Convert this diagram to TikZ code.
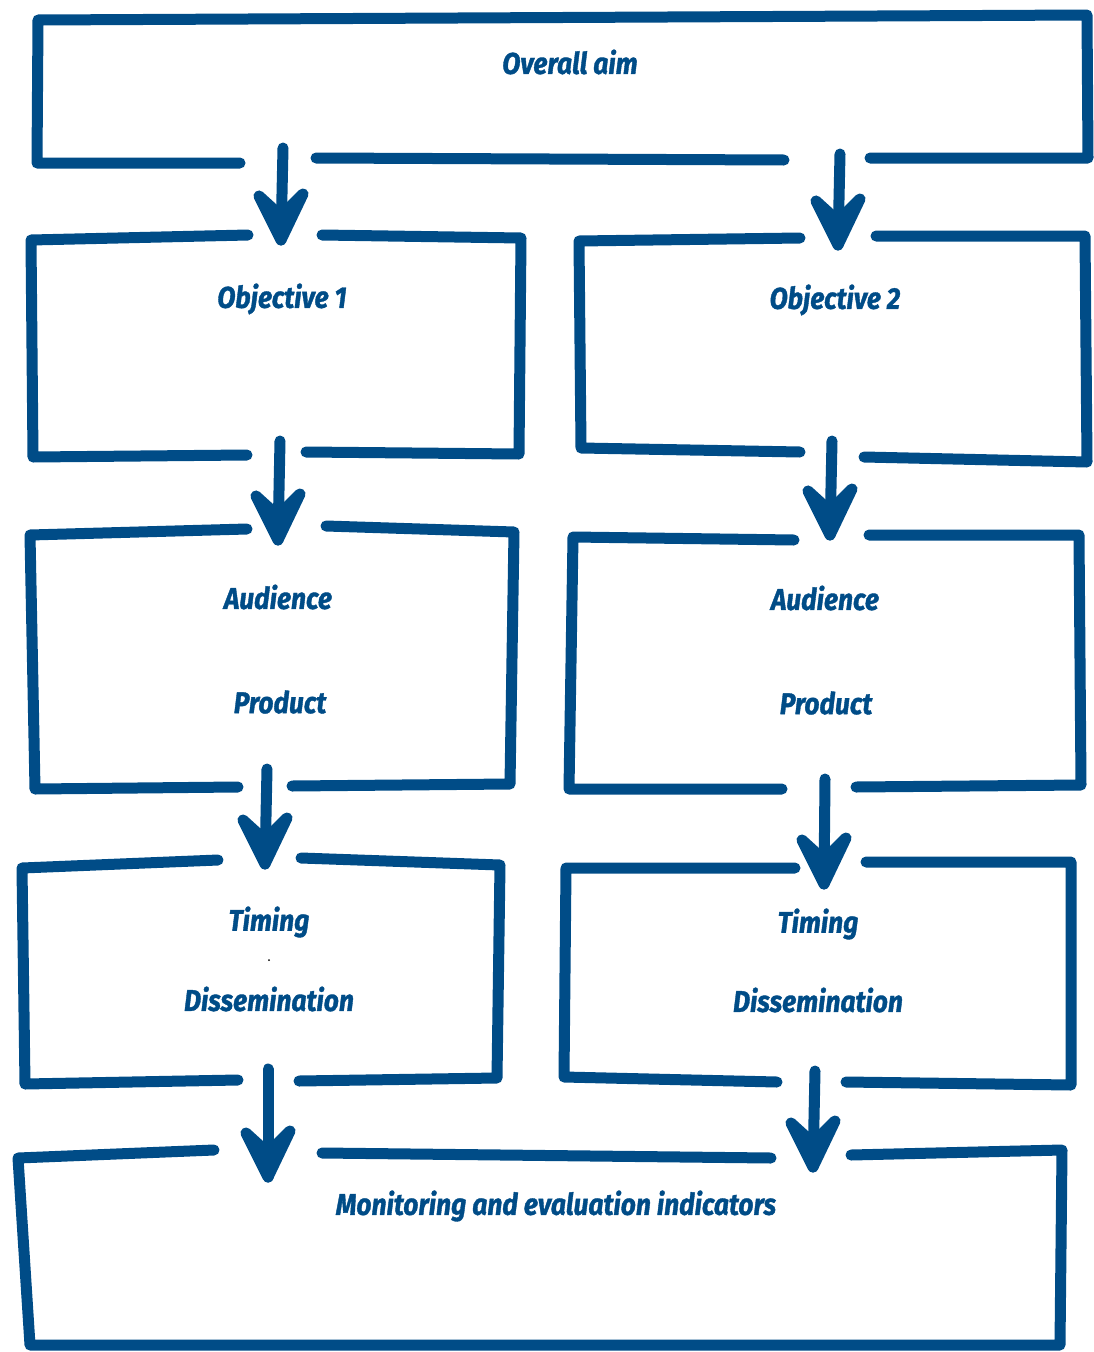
\documentclass[tikz,border=0pt]{standalone}
\usepackage{fontspec}
\newfontfamily\handfont{Fira Sans}[FakeStretch=0.88, FakeBold=1.2]
\usetikzlibrary{calc}
\definecolor{inkblue}{RGB}{0,76,135}
\tikzset{
  pen/.style={draw=inkblue, line width=11pt, line cap=round, line join=round},
  shaft/.style={draw=inkblue, line width=11pt, line cap=round},
  tiphead/.style={draw=inkblue, fill=inkblue, line width=11pt, line cap=round, line join=round},
  label/.style={text=inkblue, font=\handfont\bfseries\itshape\fontsize{30}{32}\selectfont, inner sep=0pt}
}
\newcommand{\handarrow}[2]{%
  \draw[shaft] (#1) -- (#2);
  \filldraw[tiphead] ($(#2)+(-22,-44)$) -- (#2) -- ($(#2)+(22,-46)$) -- ($(#2)+(0,-24)$) -- cycle;
}
\begin{document}
\begin{tikzpicture}[x=1pt,y=-1pt]
\useasboundingbox (0,0) rectangle (1093,1352);
% boxes
\draw[pen] (240,163) -- (37,163) -- (38,20) -- (1087,15) -- (1088,158) -- (870,158);
\draw[pen] (316,158) -- (784,160);
\draw[pen] (248,235) -- (31,240) -- (33,457) -- (247,455);
\draw[pen] (322,235) -- (521,238) -- (519,454) -- (306,452);
\draw[pen] (800,238) -- (579,241) -- (581,448) -- (800,452);
\draw[pen] (876,236) -- (1085,236) -- (1087,462) -- (864,457);
\draw[pen] (247,529) -- (30,535) -- (35,789) -- (238,787);
\draw[pen] (326,526) -- (514,532) -- (510,784) -- (292,786);
\draw[pen] (794,540) -- (573,537) -- (569,789) -- (782,789);
\draw[pen] (869,535) -- (1079,535) -- (1081,785) -- (856,787);
\draw[pen] (218,860) -- (22,868) -- (25,1084) -- (238,1080);
\draw[pen] (301,858) -- (500,865) -- (497,1078) -- (299,1081);
\draw[pen] (795,868) -- (566,868) -- (564,1077) -- (777,1082);
\draw[pen] (866,862) -- (1071,862) -- (1071,1085) -- (846,1082);
\draw[pen] (214,1150) -- (18,1158) -- (30,1345) -- (1060,1345) -- (1062,1150) -- (851,1155);
\draw[pen] (322,1153) -- (771,1158);
% labels
\node[label] (aim) at (570,62) {Overall aim};
\node[label] (obj1) at (282,299) {Objective 1};
\node[label] (obj2) at (835,300) {Objective 2};
\node[label] (aud1) at (278,597) {Audience};
\node[label] (prod1) at (280,702) {Product};
\node[label] (aud2) at (825,598) {Audience};
\node[label] (prod2) at (826,703) {Product};
\node[label] (tim1) at (269,922) {Timing};
\node[label] (dis1) at (269,999) {Dissemination};
\node[label] (tim2) at (818,924) {Timing};
\node[label] (dis2) at (818,1000) {Dissemination};
\node[label] (mon) at (556,1206) {Monitoring and evaluation indicators};
\fill[black] (269,960) circle (1pt);
% arrows
\coordinate (a1s) at (283,148); \coordinate (a1e) at (281,240);
\coordinate (a2s) at (840,154); \coordinate (a2e) at (838,245);
\coordinate (a3s) at (280,441); \coordinate (a3e) at (278,540);
\coordinate (a4s) at (832,441); \coordinate (a4e) at (830,535);
\coordinate (a5s) at (267,769); \coordinate (a5e) at (265,864);
\coordinate (a6s) at (825,779); \coordinate (a6e) at (824,884);
\coordinate (a7s) at (268,1069); \coordinate (a7e) at (268,1177);
\coordinate (a8s) at (815,1071); \coordinate (a8e) at (813,1167);
\handarrow{a1s}{a1e}
\handarrow{a2s}{a2e}
\handarrow{a3s}{a3e}
\handarrow{a4s}{a4e}
\handarrow{a5s}{a5e}
\handarrow{a6s}{a6e}
\handarrow{a7s}{a7e}
\handarrow{a8s}{a8e}
\end{tikzpicture}
\end{document}
